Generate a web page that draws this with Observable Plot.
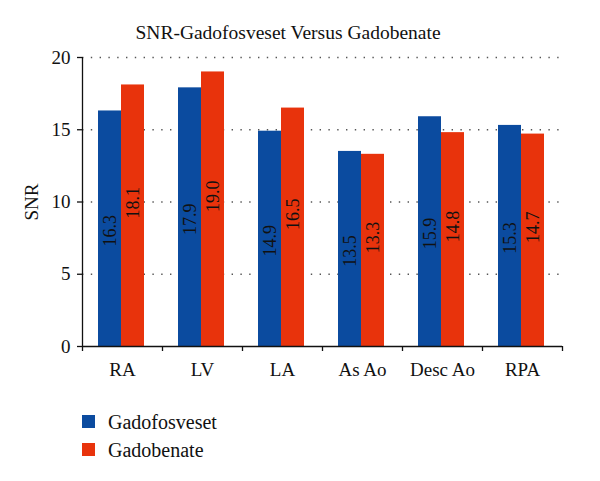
<!DOCTYPE html>
<html>
<head>
<meta charset="utf-8">
<script src="https://cdn.jsdelivr.net/npm/d3@7"></script>
<script src="https://cdn.jsdelivr.net/npm/@observablehq/plot@0.6"></script>
<style>
  body { margin: 0; background: #fff; font-family: 'Liberation Serif', 'DejaVu Serif', serif; color: #111; }
  #wrap { width: 600px; }
  #title { height: 48px; box-sizing: border-box; padding-top: 21px; padding-right: 24px; text-align: center; font-family: 'Liberation Serif', serif; font-size: 19.5px; line-height: 24px; }
  #legend { margin-top: 19.5px; padding-left: 82px; }
  .row { display: flex; align-items: center; height: 28px; font-family: 'Liberation Serif', serif; font-size: 20px; line-height: 28px; }
  .sw { width: 13px; height: 13px; margin-right: 13px; }
</style>
</head>
<body>
<div id="wrap">
  <div id="title">SNR-Gadofosveset Versus Gadobenate</div>
  <div id="chart"></div>
  <div id="legend"></div>
</div>
<script>
const categories = ["RA", "LV", "LA", "As Ao", "Desc Ao", "RPA"];
const gadofosveset = [16.3, 17.9, 14.9, 13.5, 15.9, 15.3];
const gadobenate = [18.1, 19.0, 16.5, 13.3, 14.8, 14.7];
const yTicks = [0, 5, 10, 15, 20];
const seriesNames = ["Gadofosveset", "Gadobenate"];
const colors = ["#0b4b9f", "#e8330c"];

const blue = categories.map((c, i) => ({cat: c, series: seriesNames[0], v: gadofosveset[i]}));
const red = categories.map((c, i) => ({cat: c, series: seriesNames[1], v: gadobenate[i]}));

const chart = Plot.plot({
  width: 600,
  height: 340,
  marginLeft: 82,
  marginRight: 38,
  marginTop: 9,
  marginBottom: 42,
  style: {fontFamily: "Liberation Serif", fontSize: "19px", color: "#111", background: "white", overflow: "visible"},
  x: {domain: categories, padding: 0},
  y: {domain: [0, 20]},
  color: {domain: seriesNames, range: colors},
  marks: [
    Plot.ruleY(yTicks.filter(t => t > 0), {stroke: "#555", strokeWidth: 1.4, strokeDasharray: "1.4,7.4"}),
    Plot.barY(blue, {x: "cat", y: "v", fill: "series", insetLeft: 16, insetRight: 41}),
    Plot.barY(red, {x: "cat", y: "v", fill: "series", insetLeft: 39, insetRight: 18}),
    Plot.text(blue, {x: "cat", y: d => d.v / 2, text: d => d.v.toFixed(1), rotate: -90, dx: -12.5, dy: 2, fontSize: 18, fill: "#111"}),
    Plot.text(red, {x: "cat", y: d => d.v / 2, text: d => d.v.toFixed(1), rotate: -90, dx: 10.5, dy: -13, fontSize: 18, fill: "#111"}),
    Plot.ruleY([0], {stroke: "#111", strokeWidth: 1.3}),
    Plot.ruleX([categories[0]], {y1: 0, y2: 20, dx: -40, stroke: "#111", strokeWidth: 1.3}),
    Plot.ruleX(categories, {y1: 0, y2: 0, insetBottom: -5, dx: -40, stroke: "#111", strokeWidth: 1.3}),
    Plot.ruleX([categories[categories.length - 1]], {y1: 0, y2: 0, insetBottom: -5, dx: 40, stroke: "#111", strokeWidth: 1.3}),
    Plot.axisX({tickSize: 0, tickPadding: 16, label: null, fontSize: 19}),
    Plot.axisY({ticks: yTicks, tickSize: 5, tickPadding: 7, label: "SNR", labelAnchor: "center", labelArrow: "none", labelOffset: 58, fontSize: 19, strokeWidth: 1.3})
  ]
});
document.getElementById("chart").appendChild(chart);

const legend = document.getElementById("legend");
seriesNames.forEach((name, i) => {
  const row = document.createElement("div");
  row.className = "row";
  const sw = document.createElement("div");
  sw.className = "sw";
  sw.style.background = colors[i];
  const label = document.createElement("span");
  label.textContent = name;
  row.appendChild(sw);
  row.appendChild(label);
  legend.appendChild(row);
});
</script>
</body>
</html>
